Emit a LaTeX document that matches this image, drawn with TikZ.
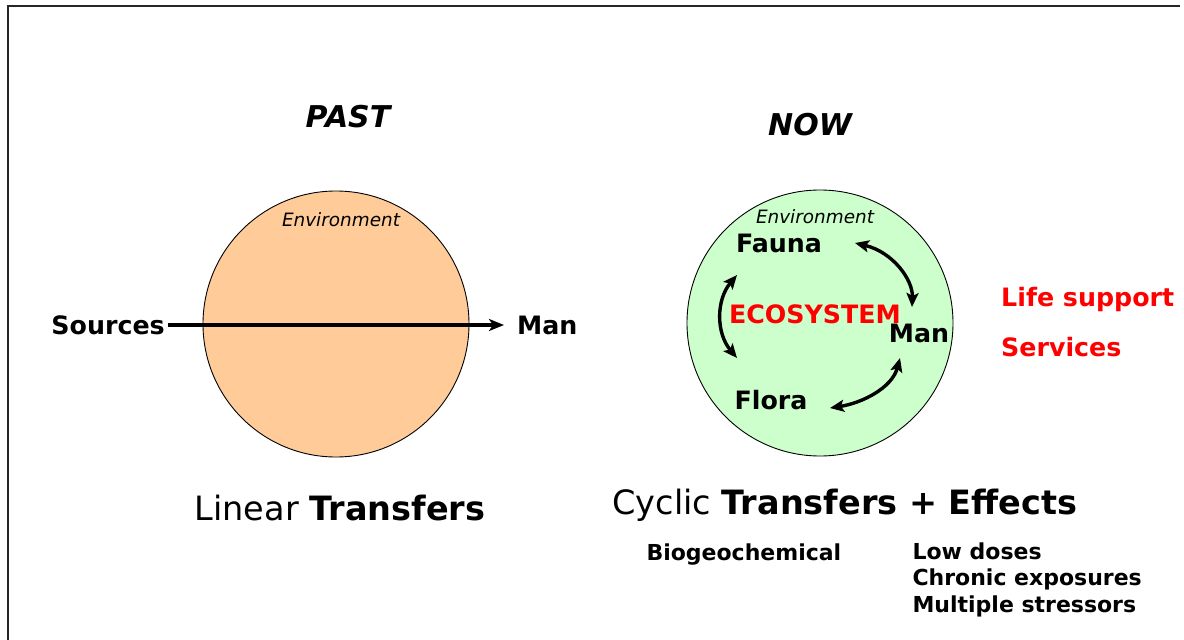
\documentclass[tikz,border=0pt]{standalone}
\usepackage{fontspec}
\setmainfont{DejaVu Sans}
\usetikzlibrary{arrows.meta}
\definecolor{peach}{HTML}{FFCC99}
\definecolor{palegreen}{HTML}{CCFFCC}
\tikzset{
  title/.style={font=\fontsize{30}{34}\selectfont\bfseries\itshape},
  envlabel/.style={font=\fontsize{18.4}{22}\selectfont\itshape},
  word/.style={font=\fontsize{25.3}{30}\selectfont\bfseries, inner sep=3pt},
  redword/.style={word, text=red},
  caption/.style={font=\fontsize{33.5}{38}\selectfont},
  note/.style={font=\fontsize{22}{26.5}\selectfont\bfseries, align=left},
  envcircle/.style={circle, draw, line width=0.9pt, minimum size=266pt, inner sep=0pt},
  flow/.style={line width=3.2pt, -{Stealth[length=15pt,width=12pt,inset=4pt]}},
  exchange/.style={line width=3.4pt, {Stealth[length=14pt,width=12pt,inset=3pt]}-{Stealth[length=14pt,width=12pt,inset=3pt]}}
}
\begin{document}
\begin{tikzpicture}[x=1pt,y=-1pt]
  \useasboundingbox (0,0) rectangle (1184,640);
  \draw [line width=1.6pt, black!85] (8,640) -- (8,6) -- (1180,6);

  % PAST : linear transfers
  \node [envcircle, fill=peach] (circPast) at (336,324) {};
  \node [title] (past) at (348,117) {PAST};
  \node [envlabel] (envPast) at (341,220) {Environment};
  \node [word, anchor=east] (sources) at (168,325) {Sources};
  \node [word, anchor=west] (manPast) at (514,325) {Man};
  \draw [flow, shorten >=10pt] (sources.east) -- (manPast.west);
  \node [caption] (linear) at (340,508) {Linear \textbf{Transfers}};

  % NOW : cyclic transfers inside the ecosystem
  \node [envcircle, fill=palegreen] (circNow) at (820,323) {};
  \node [title] (now) at (810,125) {NOW};
  \node [envlabel] (envNow) at (815,217) {Environment};
  \node [word] (fauna) at (779,243) {Fauna};
  \node [word] (flora) at (771,400) {Flora};
  \node [word] (manNow) at (919,333) {Man};
  \node [redword] (eco) at (815,314) {ECOSYSTEM};
  \coordinate (fm1) at (855,243); \coordinate (fm2) at (912,307);
  \coordinate (ff1) at (737,275); \coordinate (ff2) at (737,358);
  \coordinate (mf1) at (900,358); \coordinate (mf2) at (830,408);
  \draw [exchange] (fm1) .. controls (893,252) and (913,280) .. (fm2);
  \draw [exchange] (ff1) .. controls (716,300) and (716,333) .. (ff2);
  \draw [exchange] (mf1) .. controls (892,388) and (862,403) .. (mf2);

  \node [redword, anchor=west] (life) at (998,300) {Life support};
  \node [redword, anchor=west] (services) at (998,347) {Services};
  \node [caption] (cyclic) at (845,505) {Cyclic \textbf{Transfers + Effects}};
  \node [note, anchor=west] (bio) at (643,555) {Biogeochemical};
  \node [note, anchor=north west] (effects) at (909,539) {Low doses\\Chronic exposures\\Multiple stressors};
\end{tikzpicture}
\end{document}
